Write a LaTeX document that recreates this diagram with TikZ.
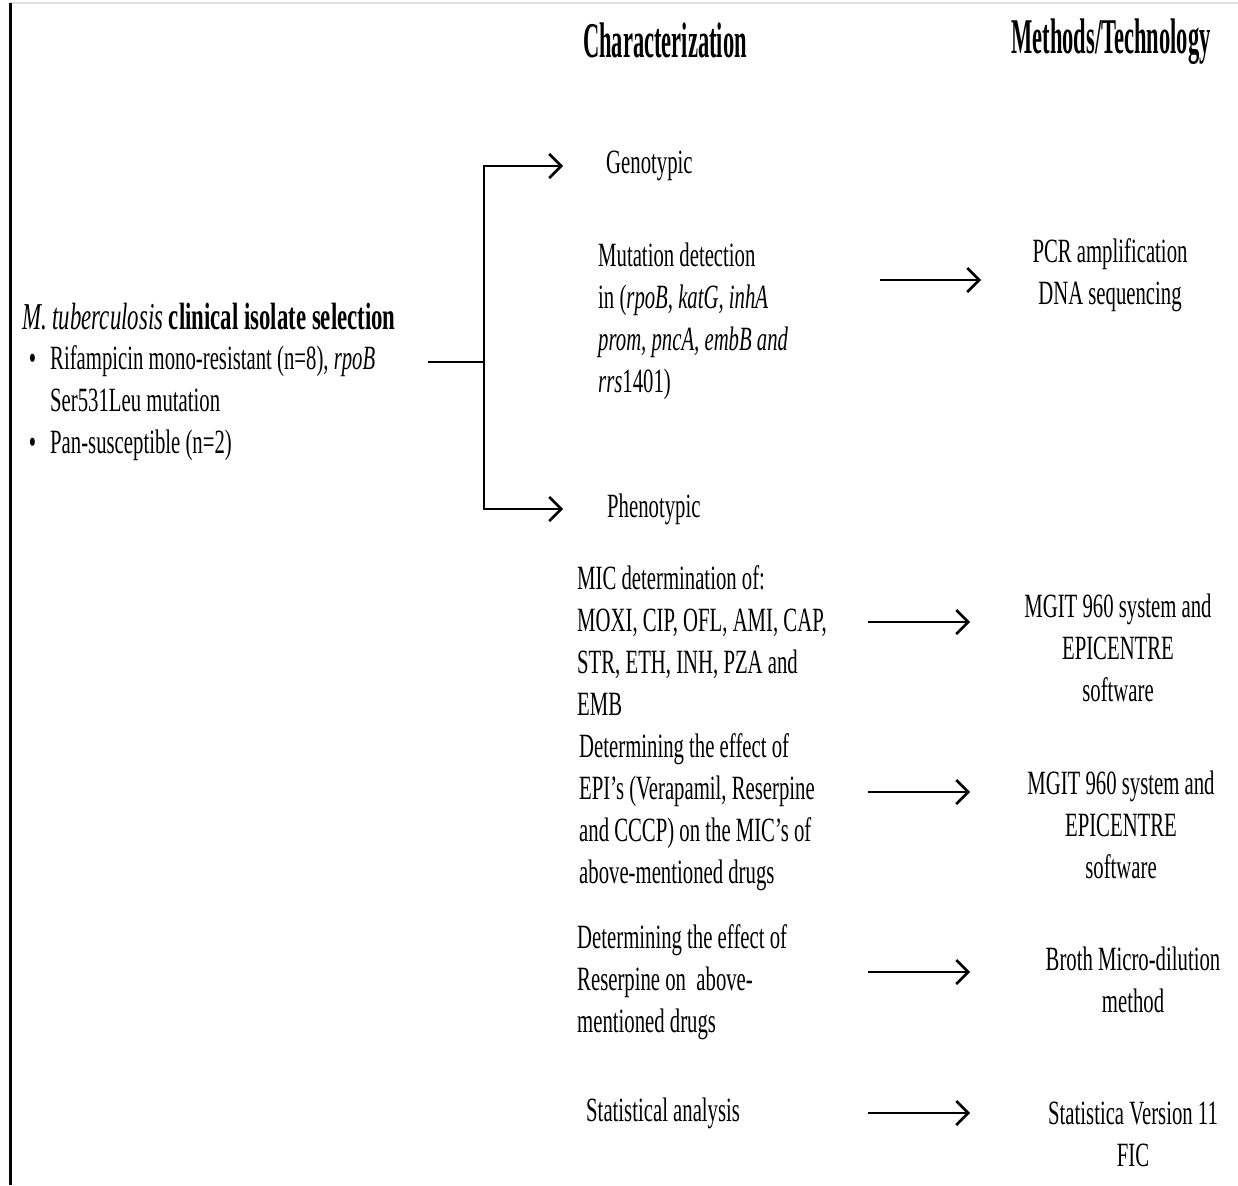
\documentclass[tikz,border=0pt]{standalone}
\usepackage{fontspec}
\setmainfont{Liberation Serif}[FakeStretch=0.61]
\newfontfamily\headfont{Liberation Serif}[FakeStretch=0.45]
\newfontfamily\titlefont{Liberation Serif}[FakeStretch=0.6]
\usetikzlibrary{arrows.meta}
\begin{document}
\begin{tikzpicture}[x=1pt,y=-1pt,
  txt/.style={inner sep=0pt, font=\fontsize{34}{42}\selectfont, align=left, anchor=west},
  ctxt/.style={inner sep=0pt, font=\fontsize{34}{42}\selectfont, align=center},
  head/.style={inner sep=0pt, font=\headfont\bfseries\fontsize{50}{54}\selectfont},
  conn/.style={line width=2.5pt},
  arr/.style={line width=2.5pt, -{Straight Barb[length=12pt,width=24pt]}}
]
\useasboundingbox (0,0) rectangle (1238,1185);
\fill[white] (0,0) rectangle (1238,1185);
\coordinate (tl) at (10,3);
\coordinate (tr) at (1238,3);
\coordinate (bl) at (10,1185);
\draw[gray!25, line width=1.5pt] (tl) -- (tr);
\draw[line width=3pt] (tl) -- (bl);

\node[head] (hchar) at (665,40) {Characterization};
\node[head] (hmeth) at (1111,42) {Methods/Technology};

\node[txt, font=\titlefont\fontsize{38}{42}\selectfont] (title) at (22,317) {\textit{M. tuberculosis} \textbf{clinical isolate selection}};
\node[txt] (bul) at (50,403) {\llap{•\hspace{14pt}}Rifampicin mono-resistant (n=8), \textit{rpoB}\\Ser531Leu mutation\\\llap{•\hspace{14pt}}Pan-susceptible (n=2)};

\node[txt] (geno) at (606,166) {Genotypic};
\node[txt] (mut) at (598,321) {Mutation detection\\in (\textit{rpoB, katG, inhA}\\\textit{prom, pncA, embB and}\\\textit{rrs}1401)};
\node[ctxt] (pcr) at (1110,275) {PCR amplification\\DNA sequencing};

\node[txt] (pheno) at (607,509) {Phenotypic};
\node[txt] (mic) at (577,641) {MIC determination of:\\MOXI, CIP, OFL, AMI, CAP,\\STR, ETH, INH, PZA and\\EMB};
\node[ctxt] (mgit1) at (1118,648) {MGIT 960 system and\\EPICENTRE\\software};

\node[txt] (epi) at (579,812) {Determining the effect of\\EPI’s (Verapamil, Reserpine\\and CCCP) on the MIC’s of\\above-mentioned drugs};
\node[ctxt] (mgit2) at (1121,825) {MGIT 960 system and\\EPICENTRE\\software};

\node[txt] (res) at (577,982) {Determining the effect of\\Reserpine on\ \ above-\\mentioned drugs};
\node[ctxt] (broth) at (1133,980) {Broth Micro-dilution\\method};

\node[txt] (stat) at (586,1113) {Statistical analysis};
\node[ctxt] (stv) at (1133,1134) {Statistica Version 11\\FIC};

\coordinate (s0) at (428,362);
\coordinate (j) at (484,362);
\coordinate (ga) at (563,166);
\coordinate (pa) at (563,509);
\draw[conn] (s0) -- (j);
\draw[arr] (j) |- (ga);
\draw[arr] (j) |- (pa);

\coordinate (a1s) at (880,280); \coordinate (a1e) at (981,280);
\coordinate (a2s) at (868,622); \coordinate (a2e) at (970,622);
\coordinate (a3s) at (868,792); \coordinate (a3e) at (970,792);
\coordinate (a4s) at (868,972); \coordinate (a4e) at (970,972);
\coordinate (a5s) at (868,1113); \coordinate (a5e) at (970,1113);
\draw[arr] (a1s) -- (a1e);
\draw[arr] (a2s) -- (a2e);
\draw[arr] (a3s) -- (a3e);
\draw[arr] (a4s) -- (a4e);
\draw[arr] (a5s) -- (a5e);
\end{tikzpicture}
\end{document}
